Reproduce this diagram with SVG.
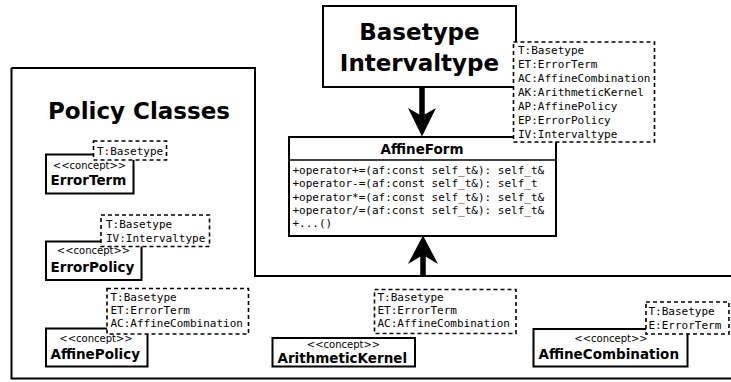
<svg xmlns="http://www.w3.org/2000/svg" width="731" height="382" viewBox="0 0 731 382">
  <style>
    .box { fill: #fff; stroke: #000; stroke-width: 2; }
    .tpl { fill: #fff; stroke: #000; stroke-width: 1.6; stroke-dasharray: 4 3; }
    .frame { fill: none; stroke: #000; stroke-width: 2; }
    .mono { font-family: "DejaVu Sans Mono", monospace; font-size: 11px; fill: #000; }
    .stereo { font-family: "DejaVu Sans", sans-serif; font-size: 10px; fill: #000; text-anchor: middle; }
    .name { font-family: "DejaVu Sans", sans-serif; font-size: 13.5px; font-weight: bold; fill: #000; }
    .big { font-family: "DejaVu Sans", sans-serif; font-size: 23px; font-weight: bold; fill: #000; text-anchor: middle; }
    .shaft { stroke: #000; stroke-width: 5.5; fill: none; }
    .head { fill: #000; stroke: none; }
  </style>

  <!-- package frame for the policy classes -->
  <g id="policy-frame">
    <path class="frame" d="M11.5,68 H255 V276 H731 M731,378.5 H11.5 V68"/>
    <text class="big" x="139" y="119">Policy Classes</text>
  </g>

  <!-- template arguments -->
  <g id="basetype">
    <rect class="box" x="323" y="6" width="193" height="81"/>
    <text class="big" x="419.5" y="40">Basetype</text>
    <text class="big" x="419.5" y="71">Intervaltype</text>
  </g>

  <!-- connectors -->
  <g id="connectors">
    <line class="shaft" x1="422" y1="87" x2="422" y2="120"/>
    <path class="head" d="M408,108 L422,136.5 L436,108 L422,116 Z"/>
    <line class="shaft" x1="423" y1="276" x2="423" y2="250"/>
    <path class="head" d="M408,264 L423,235.5 L438,264 L423,255 Z"/>
  </g>

  <g id="affineform">
    <rect class="box" x="289" y="137" width="267" height="99"/>
    <line stroke="#000" stroke-width="1.5" x1="289" y1="160" x2="556" y2="160"/>
    <text class="name" x="422" y="154" text-anchor="middle">AffineForm</text>
    <text class="mono" x="292.5" y="174">+operator+=(af:const self_t&amp;): self_t&amp;</text>
    <text class="mono" x="292.5" y="187.3">+operator-=(af:const self_t&amp;): self_t</text>
    <text class="mono" x="292.5" y="200.6">+operator*=(af:const self_t&amp;): self_t&amp;</text>
    <text class="mono" x="292.5" y="213.9">+operator/=(af:const self_t&amp;): self_t&amp;</text>
    <text class="mono" x="292.5" y="227.2">+...()</text>
  </g>

  <g id="affineform-params">
    <rect class="tpl" x="513.5" y="42" width="141" height="100"/>
    <text class="mono" x="518" y="54">T:Basetype</text>
    <text class="mono" x="518" y="68">ET:ErrorTerm</text>
    <text class="mono" x="518" y="82">AC:AffineCombination</text>
    <text class="mono" x="518" y="96">AK:ArithmeticKernel</text>
    <text class="mono" x="518" y="110">AP:AffinePolicy</text>
    <text class="mono" x="518" y="124">EP:ErrorPolicy</text>
    <text class="mono" x="518" y="138">IV:Intervaltype</text>
  </g>

  <g id="errorterm">
    <rect class="box" x="46" y="154.5" width="87.5" height="39"/>
    <text class="stereo" x="89.5" y="169">&lt;&lt;concept&gt;&gt;</text>
    <text class="name" x="50.5" y="184.5">ErrorTerm</text>
    <rect class="tpl" x="93.5" y="141" width="73" height="19"/>
    <text class="mono" x="97" y="154.5">T:Basetype</text>
  </g>

  <g id="errorpolicy">
    <rect class="box" x="46" y="241.5" width="95.5" height="38.5"/>
    <text class="stereo" x="93.5" y="254">&lt;&lt;concept&gt;&gt;</text>
    <text class="name" x="50.5" y="272">ErrorPolicy</text>
    <rect class="tpl" x="101" y="215" width="108.5" height="31.5"/>
    <text class="mono" x="106" y="228">T:Basetype</text>
    <text class="mono" x="106" y="242">IV:Intervaltype</text>
  </g>

  <g id="affinepolicy">
    <rect class="box" x="46" y="328.5" width="101.5" height="38"/>
    <text class="stereo" x="96" y="341.5">&lt;&lt;concept&gt;&gt;</text>
    <text class="name" x="50.5" y="358.5">AffinePolicy</text>
    <rect class="tpl" x="107" y="288.5" width="141.5" height="45.5"/>
    <text class="mono" x="110.5" y="300.5">T:Basetype</text>
    <text class="mono" x="110.5" y="313.8">ET:ErrorTerm</text>
    <text class="mono" x="110.5" y="327.1">AC:AffineCombination</text>
  </g>

  <g id="arithmetickernel">
    <rect class="box" x="272.5" y="338" width="142.5" height="28.5"/>
    <text class="stereo" x="343.5" y="347.5">&lt;&lt;concept&gt;&gt;</text>
    <text class="name" x="277.5" y="362.5">ArithmeticKernel</text>
    <rect class="tpl" x="374.5" y="289.5" width="141.5" height="44"/>
    <text class="mono" x="377.5" y="300.5">T:Basetype</text>
    <text class="mono" x="377.5" y="313.8">ET:ErrorTerm</text>
    <text class="mono" x="377.5" y="327.1">AC:AffineCombination</text>
  </g>

  <g id="affinecombination">
    <rect class="box" x="533.5" y="329" width="154" height="37.5"/>
    <text class="stereo" x="611" y="341.5">&lt;&lt;concept&gt;&gt;</text>
    <text class="name" x="538.5" y="358.5">AffineCombination</text>
    <rect class="tpl" x="646" y="302" width="83" height="32"/>
    <text class="mono" x="648.5" y="315">T:Basetype</text>
    <text class="mono" x="648.5" y="329">E:ErrorTerm</text>
  </g>
</svg>
